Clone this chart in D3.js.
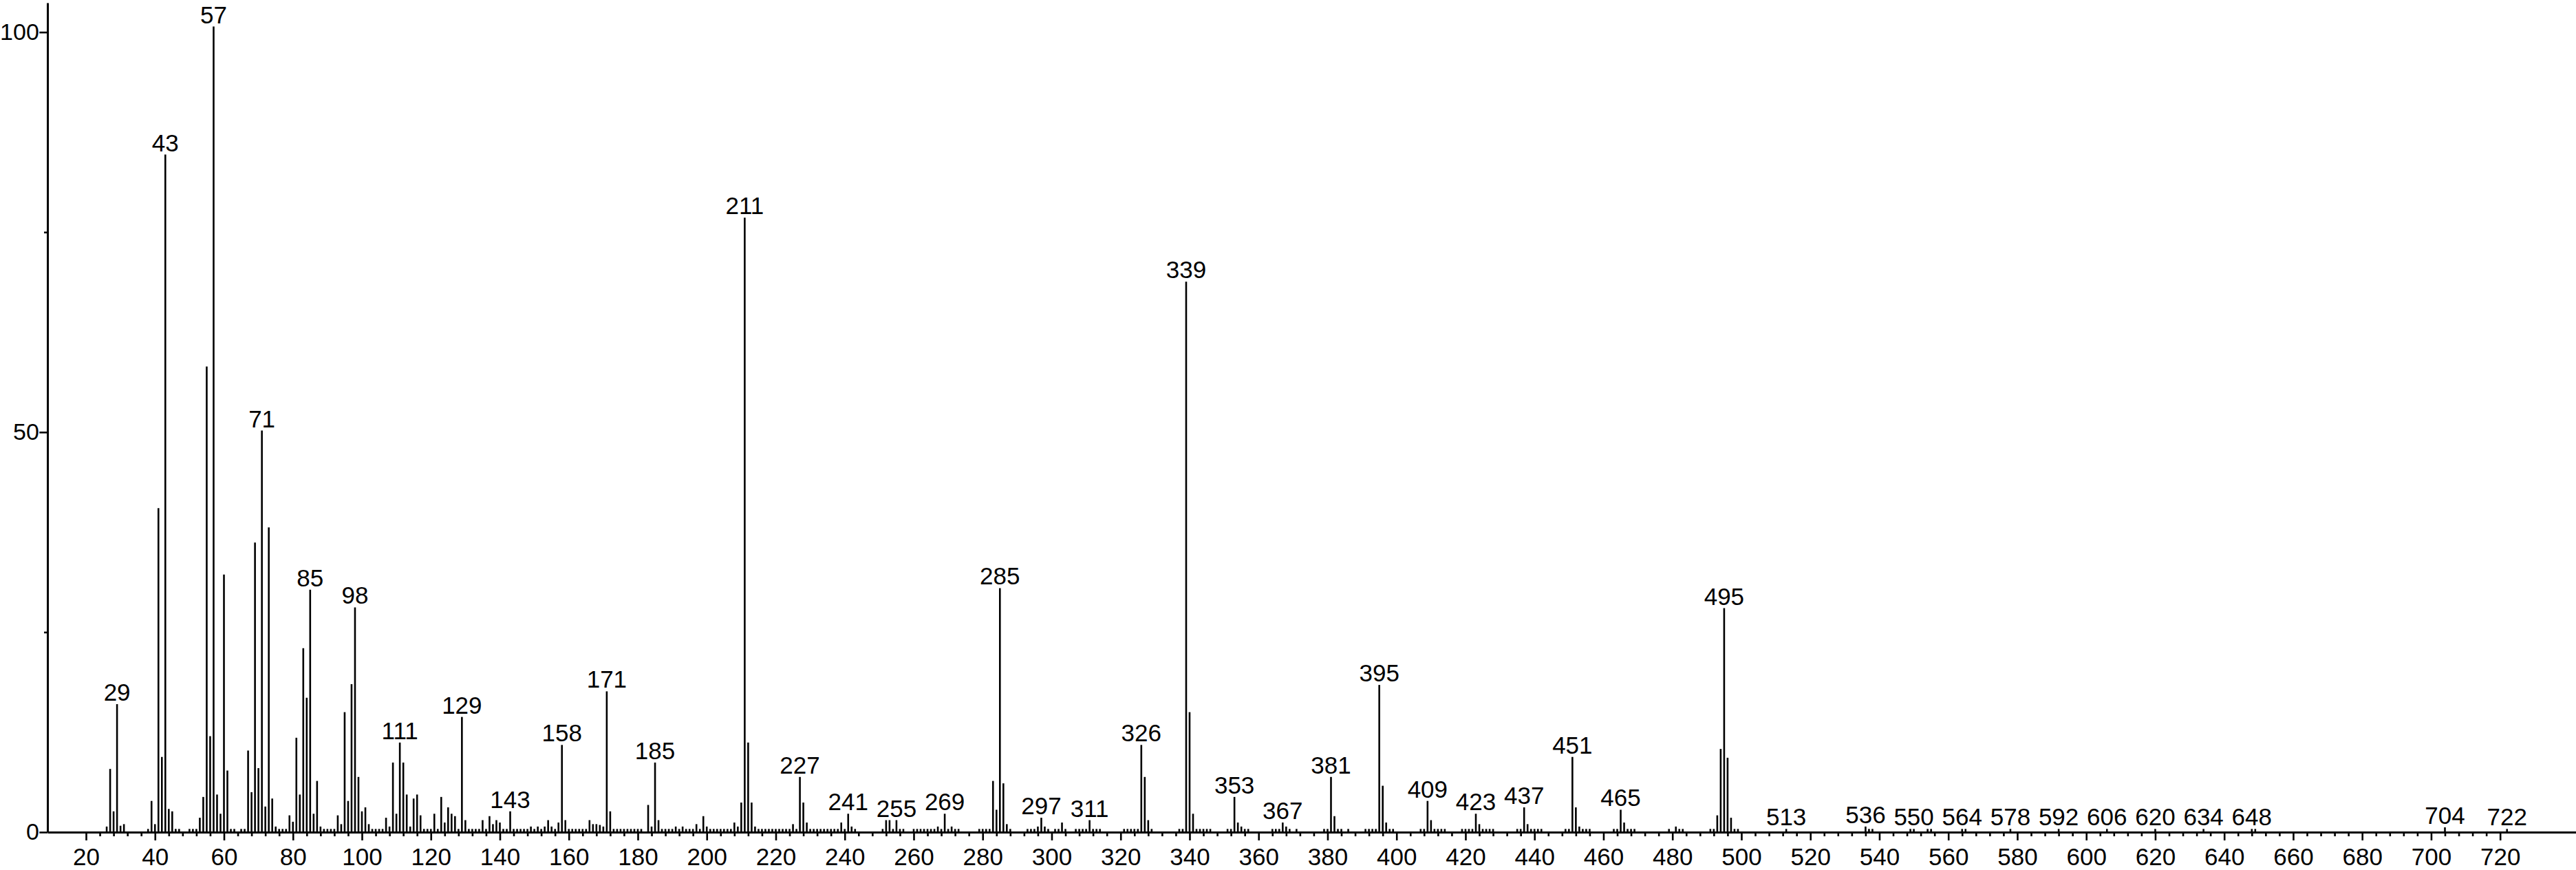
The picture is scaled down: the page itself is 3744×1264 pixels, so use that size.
<!DOCTYPE html>
<html><head><meta charset="utf-8">
<script src="https://cdn.jsdelivr.net/npm/d3@7"></script>
<style>
html,body{margin:0;padding:0;background:#fff;}
svg{display:block;}
text{font-family:"Liberation Sans",Arial,Helvetica,sans-serif;fill:#000;}
</style></head>
<body>
<svg id="chart" width="3744" height="1264"></svg>
<script>
// m/z values of the peaks
const mz = [
26,27,28,29,30,31,38,39,40,41,42,43,44,45,46,47,50,51,52,53,54,55,56,57,58,59,60,61,62,63,65,66,67,68,69,70,
71,72,73,74,75,76,77,78,79,80,81,82,83,84,85,86,87,88,89,90,91,92,93,94,95,96,97,98,99,100,101,102,103,104,105,106,
107,108,109,110,111,112,113,114,115,116,117,118,119,120,121,122,123,124,125,126,127,128,129,130,131,132,133,134,
135,136,137,138,139,140,141,142,143,144,145,146,147,148,149,150,151,152,153,154,155,156,157,158,159,160,161,162,163,164,165,
166,167,168,169,170,171,172,173,174,175,176,177,178,179,180,181,183,184,185,186,187,188,189,190,191,192,193,194,195,196,197,198,199,200,
201,202,203,204,205,206,207,208,209,210,211,212,213,214,215,216,217,218,219,220,221,222,223,224,225,226,227,228,229,
230,231,232,233,234,235,236,237,238,239,240,241,242,243,
251,252,253,254,255,256,257,260,261,262,263,264,265,266,267,268,269,270,271,272,273,279,280,281,282,283,284,285,286,287,288,
293,294,295,296,297,298,299,301,302,303,304,307,308,309,310,311,312,313,314,321,322,323,324,325,326,327,328,329,
337,338,339,340,341,342,343,344,345,346,351,352,353,354,355,356,357,364,365,366,367,368,369,371,
379,380,381,382,383,384,386,391,392,393,394,395,396,397,398,399,407,408,409,410,411,412,413,414,
419,420,421,422,423,424,425,426,427,428,435,436,437,438,439,440,441,442,449,450,451,452,453,454,455,456,
463,464,465,466,467,468,469,479,481,482,483,491,492,493,494,495,496,497,498,499,
513,536,537,538,549,550,554,555,564,565,578,592,606,620,634,648,649,704,722
];
// relative intensities (%) in the same order
const intensity = [
0.7,7.9,2.6,16.0,0.8,1.0,0.4,3.9,1.0,40.5,9.4,84.7,2.9,2.6,0.4,0.4,0.4,0.4,0.4,1.8,4.4,58.2,12.0,100.7,4.7,2.3,32.2,7.7,0.4,0.4,0.4,0.4,10.2,5.0,36.2,8.0,
50.2,3.2,38.1,4.2,0.7,0.4,0.4,0.4,2.1,1.3,11.8,4.7,23.0,16.8,30.3,2.3,6.4,0.7,0.4,0.4,0.4,0.4,2.1,1.0,15.0,3.9,18.5,28.1,6.9,2.6,3.1,1.0,0.4,0.4,0.4,0.4,
1.8,0.7,8.7,2.3,11.2,8.7,4.7,0.7,4.2,4.7,2.1,0.4,0.4,0.4,2.3,0.4,4.4,1.2,3.1,2.3,2.0,0.4,14.4,1.5,0.4,0.4,0.4,0.4,
1.5,0.4,2.0,1.0,1.5,1.2,0.4,0.4,2.6,0.4,0.4,0.4,0.4,0.4,0.7,0.4,0.7,0.4,0.7,1.5,0.7,0.4,1.2,10.9,1.5,0.4,0.4,0.4,0.4,0.4,0.4,
1.5,1.0,1.0,0.9,0.7,17.6,2.6,0.4,0.4,0.4,0.4,0.4,0.4,0.4,0.4,0.4,3.4,0.7,8.7,1.5,0.4,0.4,0.4,0.4,0.7,0.4,0.7,0.4,0.4,0.4,1.0,0.4,2.0,0.7,
0.4,0.4,0.4,0.4,0.4,0.4,0.4,1.2,0.7,3.7,76.8,11.2,3.7,0.7,0.4,0.4,0.4,0.4,0.4,0.4,0.4,0.4,0.4,0.4,1.0,0.4,6.9,3.7,1.2,
0.4,0.4,0.4,0.4,0.4,0.4,0.4,0.4,0.4,1.2,0.4,2.3,0.7,0.4,
0.4,1.5,1.5,0.4,1.5,0.4,0.4,0.4,0.4,0.4,0.4,0.4,0.4,0.4,0.7,0.4,2.3,0.4,0.7,0.4,0.4,0.4,0.4,0.4,0.4,6.4,2.8,30.5,6.1,1.0,0.4,
0.4,0.4,0.4,0.7,1.8,0.7,0.4,0.4,0.4,1.2,0.4,0.4,0.4,0.4,0.4,1.5,0.4,0.4,0.4,0.4,0.4,0.4,0.4,0.4,10.9,6.9,1.5,0.4,
0.4,0.4,68.8,15.0,2.3,0.4,0.4,0.4,0.4,0.4,0.4,0.4,4.4,1.2,0.7,0.4,0.4,0.4,0.4,0.4,1.2,0.7,0.4,0.4,
0.4,0.4,6.9,2.0,0.4,0.4,0.4,0.4,0.4,0.4,0.4,18.4,5.8,1.2,0.4,0.4,0.4,0.4,3.9,1.5,0.4,0.4,0.4,0.4,
0.4,0.4,0.4,0.4,2.3,1.0,0.4,0.4,0.4,0.4,0.4,0.4,3.1,1.0,0.4,0.4,0.4,0.4,0.4,0.4,9.4,3.1,0.7,0.4,0.4,0.4,
0.4,0.4,2.8,1.2,0.4,0.4,0.4,0.4,0.7,0.4,0.4,0.4,0.4,2.1,10.4,28.0,9.3,1.8,0.4,0.4,
0.4,0.7,0.4,0.4,0.4,0.4,0.4,0.4,0.4,0.4,0.4,0.4,0.4,0.4,0.4,0.4,0.4,0.6,0.4
];
// peaks carrying an m/z label
const labeledPeaks = [29,43,57,71,85,98,111,129,143,158,171,185,211,227,241,255,269,285,297,311,326,339,353,367,
381,395,409,423,437,451,465,495,513,536,550,564,578,592,606,620,634,648,704,722];
// axis ticks
const xMajorTicks = d3.range(20, 721, 20);
const xMinorTicks = d3.range(24, 720, 4).filter(v => v % 20 !== 0);
const yMajorTicks = [0, 50, 100];
const yMinorTicks = [25, 75];

const peaks = mz.map((m, i) => ({m, v: intensity[i]}));

const svg = d3.select("#chart");
svg.append("rect").attr("width", 3744).attr("height", 1264).attr("fill", "#fff");

const left = 69, right = 3744, base = 1209;
const x0 = d3.scaleLinear().domain([20, 720]).range([125, 3633.7]);
const x = d3.scaleLinear().domain([x0.invert(left), x0.invert(right)]).range([left, right]);
const y = d3.scaleLinear().domain([0, 100]).range([base, 46.7]);

// peaks
svg.append("g").selectAll("line").data(peaks).join("line")
  .attr("x1", d => x(d.m)).attr("x2", d => x(d.m))
  .attr("y1", y(0)).attr("y2", d => y(d.v))
  .attr("stroke", "#000").attr("stroke-width", 2.6);

// x axis (minor then major)
const gxMinor = svg.append("g").attr("transform", `translate(0,${base})`)
  .call(d3.axisBottom(x).tickValues(xMinorTicks).tickSize(6).tickSizeOuter(0).tickFormat(""));
gxMinor.select(".domain").remove();
gxMinor.selectAll("line").attr("stroke", "#000").attr("stroke-width", 2.6);

const gx = svg.append("g").attr("transform", `translate(0,${base})`)
  .call(d3.axisBottom(x).tickValues(xMajorTicks).tickSize(12).tickSizeOuter(0).tickPadding(10.7).tickFormat(d3.format("d")));
gx.select(".domain").attr("stroke", "#000").attr("stroke-width", 3);
gx.selectAll(".tick line").attr("stroke", "#000").attr("stroke-width", 2.6);
gx.selectAll("text").attr("font-size", 35).attr("font-family", '"Liberation Sans",Arial,sans-serif').attr("fill", "#000");

// y axis
const yAxisScale = y.copy().domain([0, y.invert(4)]).range([base, 4]);
const gyMinor = svg.append("g").attr("transform", `translate(${left},0)`)
  .call(d3.axisLeft(yAxisScale).tickValues(yMinorTicks).tickSize(5).tickSizeOuter(0).tickFormat(""));
gyMinor.select(".domain").remove();
gyMinor.selectAll("line").attr("stroke", "#000").attr("stroke-width", 2.6);

const gy = svg.append("g").attr("transform", `translate(${left},0)`)
  .call(d3.axisLeft(yAxisScale).tickValues(yMajorTicks).tickSize(11.7).tickSizeOuter(0).tickPadding(0.5).tickFormat(d3.format("d")));
gy.select(".domain").attr("stroke", "#000").attr("stroke-width", 3);
gy.selectAll(".tick line").attr("stroke", "#000").attr("stroke-width", 2.6);
gy.selectAll("text").attr("font-size", 34).attr("font-family", '"Liberation Sans",Arial,sans-serif').attr("fill", "#000");

// peak labels
const labelData = peaks.filter(p => labeledPeaks.includes(p.m));
svg.append("g").selectAll("text").data(labelData).join("text")
  .attr("x", d => x(d.m)).attr("y", d => y(d.v) - 5)
  .attr("text-anchor", "middle").attr("font-size", 35)
  .text(d => d.m);
</script>
</body></html>
